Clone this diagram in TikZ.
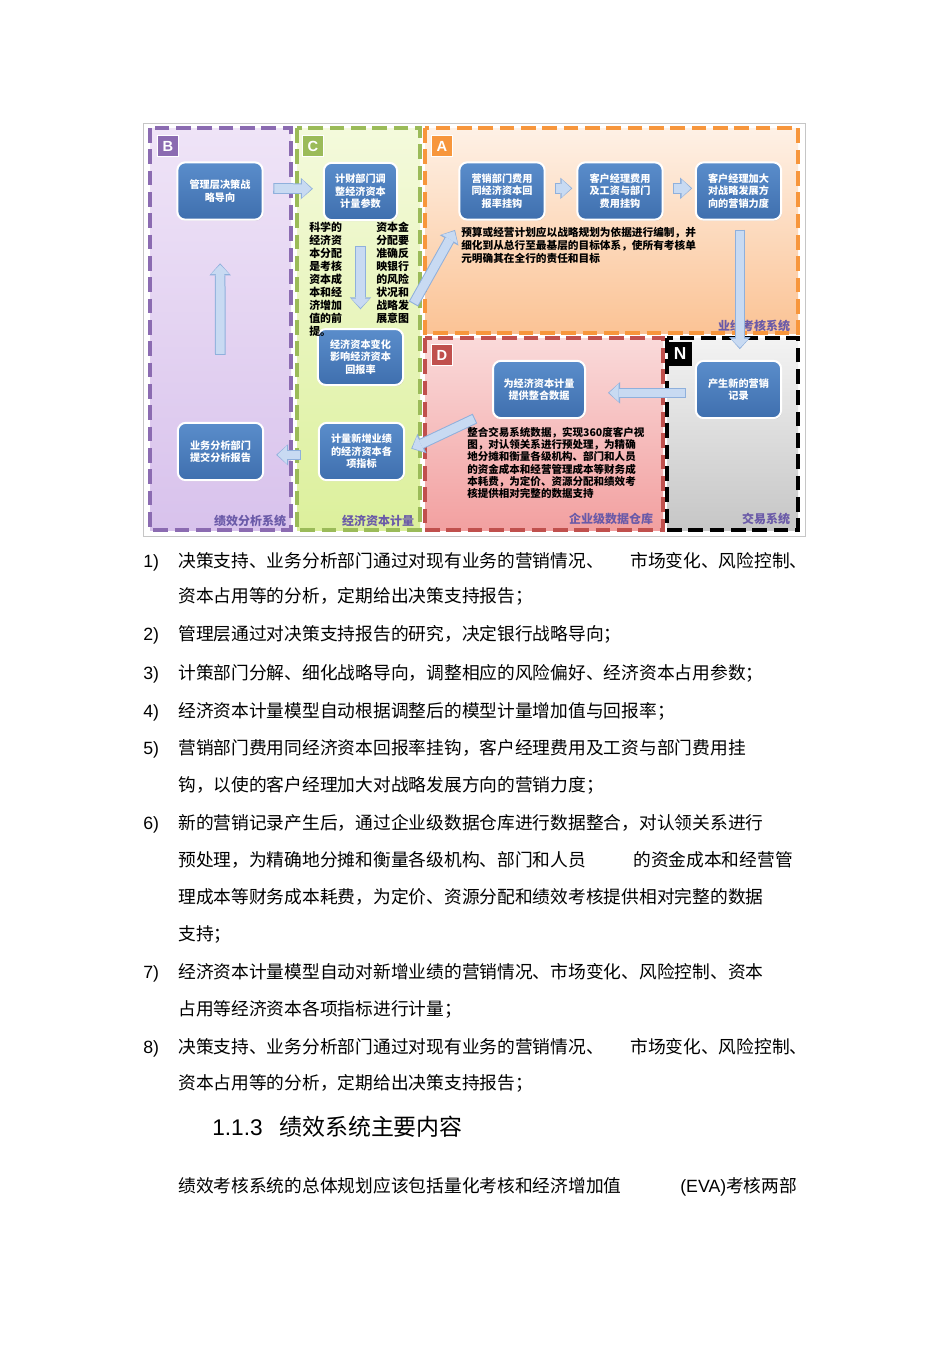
\documentclass[tikz,border=0pt]{standalone}
\usepackage{fontspec}
\setmainfont{Noto Sans CJK SC}
\newfontfamily\lat{Liberation Sans}
\usetikzlibrary{arrows.meta, positioning, shadows}

\definecolor{bpanelT}{HTML}{EFE4F7}
\definecolor{bpanelB}{HTML}{D8C2EC}
\definecolor{bedge}{HTML}{8B6BB1}
\definecolor{cpanelT}{HTML}{F4FADC}
\definecolor{cpanelB}{HTML}{DCF09C}
\definecolor{cedge}{HTML}{9BBB59}
\definecolor{apanelT}{HTML}{FEF1E6}
\definecolor{apanelB}{HTML}{FBC395}
\definecolor{aedge}{HTML}{F7963C}
\definecolor{dpanelT}{HTML}{FADADA}
\definecolor{dpanelB}{HTML}{F2A0A0}
\definecolor{dedge}{HTML}{C0504D}
\definecolor{npanelT}{HTML}{F3F3F3}
\definecolor{npanelB}{HTML}{C6C6C6}
\definecolor{boxtop}{HTML}{5A8DCB}
\definecolor{boxbot}{HTML}{3F6FAE}
\definecolor{arrfill}{HTML}{C8DAF2}
\definecolor{arrline}{HTML}{8FB0DC}
\definecolor{syspurple}{HTML}{6A5AA8}

\begin{document}
\begin{tikzpicture}[x=0.75pt, y=-0.75pt,
    panel/.style={dash pattern=on 11pt off 5pt, line width=2.4pt},
    tag/.style={draw=white, line width=0.9pt, minimum size=16pt, inner sep=0pt, text=white, font=\lat\bfseries\fontsize{11}{12}\selectfont},
    box/.style={draw=white, line width=1.5pt, rounded corners=6pt, top color=boxtop, bottom color=boxbot, text=white, align=center, inner sep=1pt, minimum width=64pt, minimum height=43pt, font=\fontsize{7.6}{9.4}\selectfont\bfseries, drop shadow={shadow xshift=0.6pt, shadow yshift=-0.8pt, opacity=0.3}},
    note/.style={anchor=north west, inner sep=0pt, align=left, font=\fontsize{8}{9.75}\selectfont\bfseries},
    sys/.style={text=syspurple, inner sep=0pt, font=\fontsize{9}{10}\selectfont\bfseries},
    fatarrow/.style 2 args={draw=arrfill, line width=6.5pt, -{Triangle[length=7pt, width=13.5pt, line width=0pt]}, shorten <=#1, shorten >=#2+1pt,
      preaction={draw=arrline, line width=8pt, -{Triangle[length=9pt, width=16pt, line width=0pt]}, shorten <=#1-0.8pt, shorten >=#2}},
    para/.style={anchor=base west, inner sep=0pt, font=\fontsize{13.3}{16}\selectfont},
    num/.style={anchor=base west, inner sep=0pt, font=\lat\fontsize{13.3}{16}\selectfont}
  ]

  \useasboundingbox (0,0) rectangle (950,1345);
  \fill[white] (0,0) rectangle (950,1345);

  % frame of the figure
  \draw[gray!45, line width=0.6pt] (143,123) rectangle (805,536);

  % coloured system panels
  \path[top color=bpanelT, bottom color=bpanelB] (150,128) rectangle (291,530);
  \draw[panel, draw=bedge] (150,128) rectangle (291,530);
  \path[top color=cpanelT, bottom color=cpanelB] (297,128) rectangle (420,530);
  \draw[panel, draw=cedge] (297,128) rectangle (420,530);
  \path[top color=apanelT, bottom color=apanelB] (425,128) rectangle (798,333);
  \draw[panel, draw=aedge] (425,128) rectangle (798,333);
  \path[top color=dpanelT, bottom color=dpanelB] (425,338) rectangle (663,530);
  \draw[panel, draw=dedge] (425,338) rectangle (663,530);
  \path[top color=npanelT, bottom color=npanelB] (667,338) rectangle (798,530);
  \draw[panel, draw=black] (667,338) rectangle (798,530);

  % panel tags
  \node[tag, fill=bedge] (tagb) at (168,146) {B};
  \node[tag, fill=cedge] (tagc) at (313,146) {C};
  \node[tag, fill=aedge] (taga) at (442,146) {A};
  \node[tag, fill=dedge] (tagd) at (442,355) {D};
  \node[tag, fill=black, draw=none, minimum size=18.5pt, font=\lat\bfseries\fontsize{13}{14}\selectfont] (tagn) at (680,354) {N};

  % system names
  \node[sys] (sysb) at (250,521) {绩效分析系统};
  \node[sys] (sysc) at (378,521) {经济资本计量};
  \node[sys] (sysd) at (611,519) {企业级数据仓库};
  \node[sys] (sysn) at (766,519) {交易系统};
  \node[sys] (sysa) at (754,326) {业绩考核系统};

  % process boxes
  \node[box] (b1) at (220,191) {管理层决策战\\略导向};
  \node[box, minimum width=55pt] (c1) at (360.5,191.5) {计财部门调\\整经济资本\\计量参数};
  \node[box] (a1) at (502,191) {营销部门费用\\同经济资本回\\报率挂钩};
  \node[box] (a2) at (620,191) {客户经理费用\\及工资与部门\\费用挂钩};
  \node[box] (a3) at (738.5,191) {客户经理加大\\对战略发展方\\向的营销力度};
  \node[box, minimum height=42pt] (c2) at (360.5,357) {经济资本变化\\影响经济资本\\回报率};
  \node[box, minimum width=69pt] (d1) at (539,389.5) {为经济资本计量\\提供整合数据};
  \node[box] (n1) at (738.5,389.5) {产生新的营销\\记录};
  \node[box] (c3) at (361.5,451.5) {计量新增业绩\\的经济资本各\\项指标};
  \node[box] (b2) at (220.5,451.5) {业务分析部门\\提交分析报告};

  % notes
  \node[note, font=\fontsize{8.2}{9.75}\selectfont\bfseries] (cleft) at (309,222) {科学的\\经济资\\本分配\\是考核\\资本成\\本和经\\济增加\\值的前\\提。};
  \node[note, font=\fontsize{8.2}{9.75}\selectfont\bfseries] (cright) at (376,222) {资本金\\分配要\\准确反\\映银行\\的风险\\状况和\\战略发\\展意图};
  \node[note] (atext) at (461,227) {预算或经营计划应以战略规划为依据进行编制，并\\细化到从总行至最基层的目标体系，使所有考核单\\元明确其在全行的责任和目标};
  \node[note, font=\fontsize{7.9}{9.2}\selectfont\bfseries] (dtext) at (467,427) {整合交易系统数据，实现360度客户视\\图，对认领关系进行预处理，为精确\\地分摊和衡量各级机构、部门和人员\\的资金成本和经营管理成本等财务成\\本耗费，为定价、资源分配和绩效考\\核提供相对完整的数据支持};

  \coordinate (cfrom) at (414,303);
  \coordinate (dfrom) at (474,419);

  % block arrows
  \draw[fatarrow={8pt}{7.5pt}] ([yshift=2pt]b1.east) -- ([yshift=2pt]c1.west);
  \draw[fatarrow={19.5pt}{14pt}] (c1.south) -- (c2.north);
  \draw[fatarrow={0pt}{0pt}] (cfrom) -- ([shift={(-4.5pt,-2.2pt)}]atext.north west);
  \draw[fatarrow={7.5pt}{3pt}] ([yshift=2pt]a1.east) -- ([yshift=2pt]a2.west);
  \draw[fatarrow={7.5pt}{2pt}] ([yshift=2pt]a2.east) -- ([yshift=2pt]a3.west);
  \draw[fatarrow={7.5pt}{8pt}] ([xshift=1pt]a3.south) -- ([xshift=1pt]n1.north);
  \draw[fatarrow={7.5pt}{16.5pt}] ([yshift=-2.5pt]n1.west) -- ([yshift=-2.5pt]d1.east);
  \draw[fatarrow={0pt}{5pt}] (dfrom) -- (c3.east);
  \draw[fatarrow={13.5pt}{9pt}] ([yshift=-2.5pt]c3.west) -- ([yshift=-2.5pt]b2.east);
  \draw[fatarrow={51pt}{32pt}] (b2.north) -- (b1.south);

  % numbered list below the figure
  \foreach \n/\y in {1/567,2/640,3/679,4/717,5/754,6/829,7/978,8/1053}
    \node[num] (num\n) at (143,\y) {\n)};

  \node[para] (t1a) at (178,567) {决策支持、业务分析部门通过对现有业务的营销情况、};
  \node[para] (t1b) at (630,567) {市场变化、风险控制、};
  \node[para] (t1c) at (178,602) {资本占用等的分析，定期给出决策支持报告；};
  \node[para] (t2) at (178,640) {管理层通过对决策支持报告的研究，决定银行战略导向；};
  \node[para] (t3) at (178,679) {计策部门分解、细化战略导向，调整相应的风险偏好、经济资本占用参数；};
  \node[para] (t4) at (178,717) {经济资本计量模型自动根据调整后的模型计量增加值与回报率；};
  \node[para] (t5a) at (178,754) {营销部门费用同经济资本回报率挂钩，客户经理费用及工资与部门费用挂};
  \node[para] (t5b) at (178,791) {钩，以使的客户经理加大对战略发展方向的营销力度；};
  \node[para] (t6a) at (178,829) {新的营销记录产生后，通过企业级数据仓库进行数据整合，对认领关系进行};
  \node[para] (t6b) at (178,866) {预处理，为精确地分摊和衡量各级机构、部门和人员};
  \node[para] (t6c) at (633,866) {的资金成本和经营管};
  \node[para] (t6d) at (178,903) {理成本等财务成本耗费，为定价、资源分配和绩效考核提供相对完整的数据};
  \node[para] (t6e) at (178,940) {支持；};
  \node[para] (t7a) at (178,978) {经济资本计量模型自动对新增业绩的营销情况、市场变化、风险控制、资本};
  \node[para] (t7b) at (178,1015) {占用等经济资本各项指标进行计量；};
  \node[para] (t8a) at (178,1053) {决策支持、业务分析部门通过对现有业务的营销情况、};
  \node[para] (t8b) at (630,1053) {市场变化、风险控制、};
  \node[para] (t8c) at (178,1089) {资本占用等的分析，定期给出决策支持报告；};

  % section heading and first paragraph
  \node[anchor=base west, inner sep=0pt, font=\lat\fontsize{17}{20}\selectfont] (secnum) at (212,1135) {1.1.3};
  \node[anchor=base west, inner sep=0pt, font=\fontsize{17.2}{20}\selectfont] (sectitle) at (279,1135) {绩效系统主要内容};
  \node[para] (t9a) at (178,1192) {绩效考核系统的总体规划应该包括量化考核和经济增加值};
  \node[para] (t9b) at (680,1192) {{\lat (EVA)}考核两部};

\end{tikzpicture}
\end{document}
